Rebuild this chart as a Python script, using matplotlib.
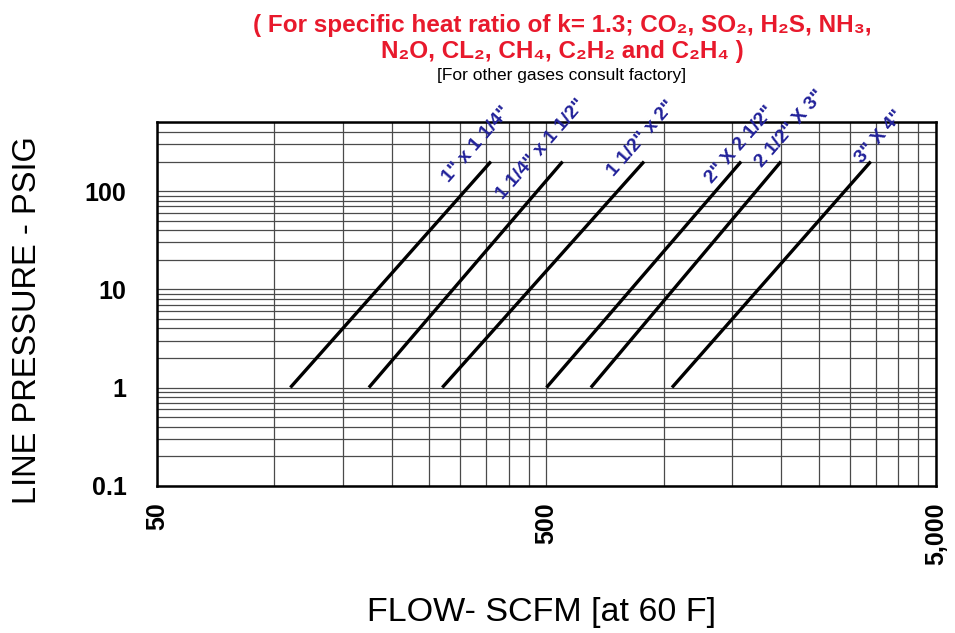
import matplotlib
matplotlib.use("Agg")
import matplotlib.pyplot as plt
import numpy as np

plt.rcParams['font.family'] = ['Liberation Sans', 'DejaVu Sans']

# valve sizes and their flow range (SCFM) between 1 and 200 psig
sizes = ['1" x 1 1/4"', '1 1/4" x 1 1/2"', '1 1/2" x 2"', '2" X 2 1/2"', '2 1/2" X 3"', '3" X 4"']
flow_low = [110, 175, 270, 500, 650, 1050]
flow_high = [360, 550, 890, 1580, 2000, 3400]
p_low = 1
p_high = 200

# where the size labels sit (data coords)
label_x = [331, 485, 876, 1572, 2112, 3571]
label_y = [299, 267, 345, 293, 426, 353]

x_minor = [100, 150, 200, 250, 300, 350, 400, 450,
           1000, 1500, 2000, 2500, 3000, 3500, 4000, 4500]
x_major = [50, 500, 5000]
x_major_lbl = ['50', '500', '5,000']
y_major = [0.1, 1, 10, 100]
y_major_lbl = ['0.1', '1', '10', '100']

fig = plt.figure(figsize=(9.55, 6.33), dpi=100)
ax = fig.add_axes([0.1644, 0.2327, 0.8157, 0.5738])
ax.set_xscale('log')
ax.set_yscale('log')
ax.set_xlim(50, 5000)
ax.set_ylim(0.1, 500)

ax.set_xticks(x_major)
ax.set_xticklabels(x_major_lbl, rotation=90, va='top', fontweight='bold')
ax.set_xticks(x_minor, minor=True)
ax.set_xticklabels([], minor=True)
ax.set_yticks(y_major)
ax.set_yticklabels(y_major_lbl, fontweight='bold')
ax.yaxis.set_minor_locator(matplotlib.ticker.LogLocator(base=10, subs=np.arange(2, 10)))
ax.yaxis.set_minor_formatter(matplotlib.ticker.NullFormatter())
ax.tick_params(which='both', length=0)
ax.tick_params(axis='y', labelsize=18, pad=22)
ax.tick_params(axis='x', labelsize=18, pad=12)

ax.grid(True, which='both', color='#4a4a4a', lw=0.9)
ax.set_axisbelow(True)
for s in ax.spines.values():
    s.set_linewidth(1.8)

for i in range(len(sizes)):
    ax.plot([flow_low[i], flow_high[i]], [p_low, p_high], color='black', lw=2.4,
            solid_capstyle='butt')
    ax.text(label_x[i], label_y[i], sizes[i], rotation=49, rotation_mode='anchor',
            ha='center', va='center', color='#22229a', fontsize=14, fontweight='bold')

fig.text(0.589, 0.9605, '( For specific heat ratio of k= 1.3; CO₂, SO₂, H₂S, NH₃,',
         ha='center', va='center', color='#e8192c', fontsize=17.5, fontweight='bold')
fig.text(0.589, 0.918, 'N₂O, CL₂, CH₄, C₂H₂ and C₂H₄ )',
         ha='center', va='center', color='#e8192c', fontsize=17.5, fontweight='bold')
fig.text(0.588, 0.880, '[For other gases consult factory]',
         ha='center', va='center', color='black', fontsize=12.5)

fig.text(28 / 955, 1 - 320 / 633, 'LINE PRESSURE - PSIG', rotation=90,
         ha='center', va='center', fontsize=23.5)
fig.text(541 / 955, 1 - 612 / 633, 'FLOW- SCFM [at 60 F]',
         ha='center', va='center', fontsize=24.5)

fig.savefig('out.png', dpi=100)
